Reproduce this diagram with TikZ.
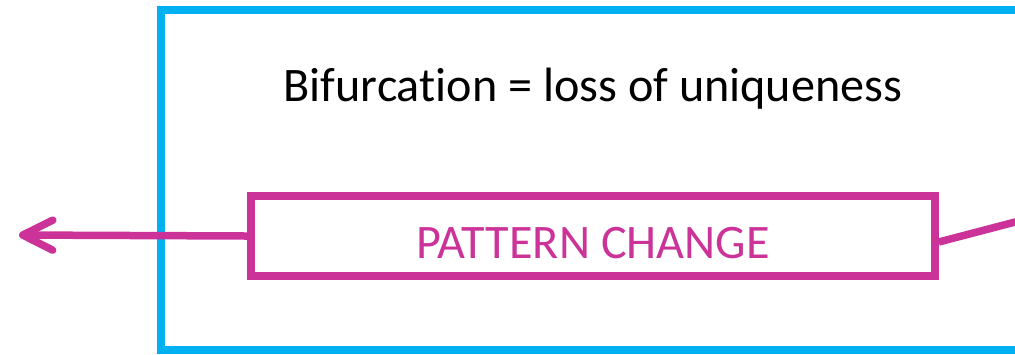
\documentclass[tikz,border=0pt]{standalone}
\usepackage{fontspec}
\setmainfont{Carlito}[Ligatures=NoCommon]
\usetikzlibrary{arrows.meta}
\definecolor{frameblue}{RGB}{0,176,240}
\definecolor{pinkline}{RGB}{204,51,153}
\begin{document}
\begin{tikzpicture}[
    frame/.style={draw=frameblue,line width=0.08cm},
    changebox/.style={draw=pinkline,line width=0.075cm,minimum width=6.84cm,minimum height=0.80cm,inner sep=0pt,text height=0.44cm,text depth=0pt,text=pinkline,font=\fontsize{13.7}{16}\selectfont},
    link/.style={draw=pinkline,line width=0.075cm}
]
\useasboundingbox (0,0) rectangle (10.15,-3.54);
\clip (0,0) rectangle (10.15,-3.54);
\draw[frame] (1.61,-0.10) rectangle (10.6,-3.50);
\node[font=\fontsize{13.7}{16}\selectfont] (title) at (5.93,-0.89) {Bifurcation = loss of uniqueness};
\node[changebox] (change) at (5.93,-2.36) {PATTERN CHANGE};
\coordinate (left) at (0.19,-2.35);
\coordinate (right) at (10.4,-2.155);

\draw[link,-{Straight Barb[length=0.3cm,width=0.3cm,round]}] (change.west) -- (left);
\draw[link] ([yshift=-0.06cm]change.east) -- (right);
\end{tikzpicture}
\end{document}
